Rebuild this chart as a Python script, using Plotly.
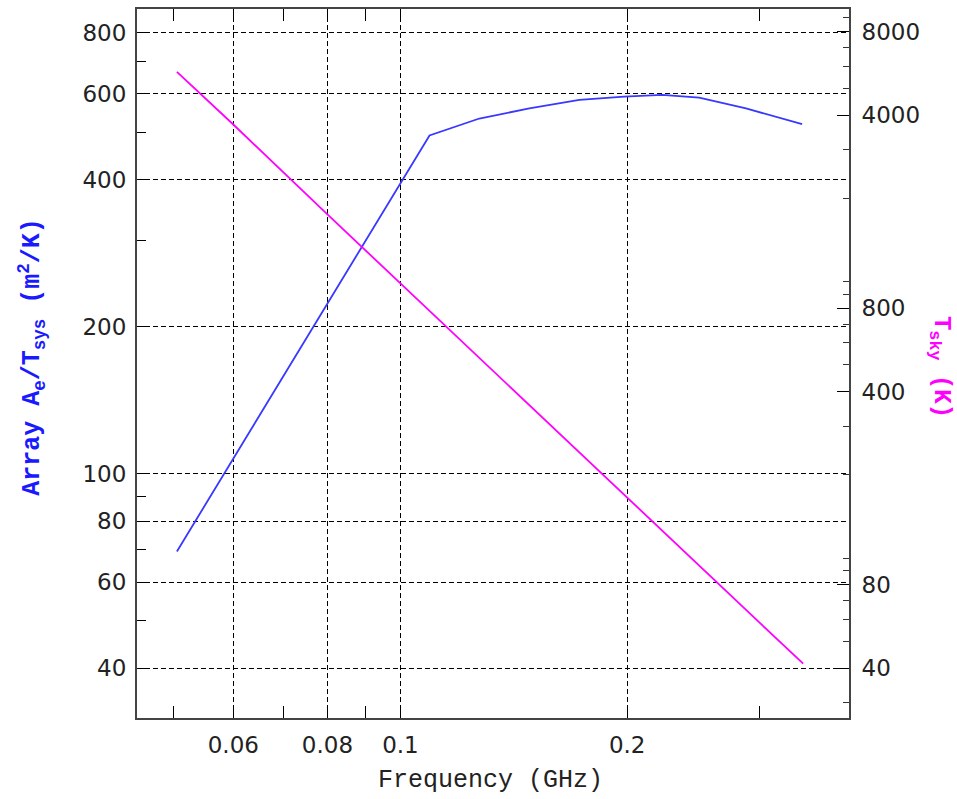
import plotly.graph_objects as go
import numpy as np

# Array Ae/Tsys (left axis)
freq_ae = [0.0505, 0.1093, 0.1273, 0.1483, 0.1728, 0.1982, 0.2226, 0.2492, 0.2876, 0.3414]
ae_tsys = [69.3, 493, 534, 560, 583, 592, 597, 589, 560, 520]

# Sky temperature (right axis)
freq_sky = [0.0505, 0.06, 0.08, 0.1, 0.2, 0.3, 0.3425]
t_sky = [5737, 3700, 1750, 984, 165, 58.3, 41.5]

x_ticks = [0.06, 0.08, 0.1, 0.2]
x_ticktext = ["0.06", "0.08", "0.1", "0.2"]
x_minor = [0.05, 0.07, 0.09, 0.3]
y_ticks = [40, 60, 80, 100, 200, 400, 600, 800]
y_minor = [50, 70, 90, 300, 500, 700]
y2_ticks = [40, 80, 400, 800, 4000, 8000]
y2_minor = [30, 50, 60, 70, 90, 100, 200, 300, 500, 600, 700, 900,
            1000, 2000, 3000, 5000, 6000, 7000, 9000]

BLUE = "#3838ff"
MAG = "#ff00ff"
TICKFONT = dict(family="DejaVu Sans", size=23, color="#222")
TITLEFONT = "Liberation Mono"
GRIDDASH = "5px,3px"

fig = go.Figure()
fig.add_trace(go.Scatter(x=freq_ae, y=ae_tsys, mode="lines",
                         line=dict(color=BLUE, width=1.8),
                         yaxis="y", showlegend=False))
fig.add_trace(go.Scatter(x=freq_sky, y=t_sky, mode="lines",
                         line=dict(color=MAG, width=1.8), yaxis="y2", showlegend=False))

fig.update_layout(
    width=957, height=799,
    margin=dict(l=137, r=108, t=7, b=81),
    paper_bgcolor="white", plot_bgcolor="white",
    xaxis=dict(type="log", range=[np.log10(0.0447), np.log10(0.394)],
               tickvals=x_ticks, ticktext=x_ticktext, tickfont=TICKFONT,
               ticks="inside", ticklen=12, tickcolor="black", tickwidth=1.3,
               showline=True, linecolor="#444", linewidth=2, mirror="allticks",
               showgrid=True, gridcolor="black", gridwidth=1, griddash=GRIDDASH,
               zeroline=False, ticklabelstandoff=5,
               minor=dict(tickvals=x_minor, ticks="inside", ticklen=9,
                          tickcolor="black", tickwidth=1.3, showgrid=False)),
    yaxis=dict(type="log", range=[np.log10(31.6), np.log10(895)],
               tickvals=y_ticks, ticktext=[str(v) for v in y_ticks], tickfont=TICKFONT,
               ticks="inside", ticklen=9, tickcolor="black", tickwidth=1.3,
               showline=True, linecolor="#444", linewidth=2,
               showgrid=True, gridcolor="black", gridwidth=1, griddash=GRIDDASH,
               zeroline=False, ticklabelstandoff=4,
               minor=dict(tickvals=y_minor, ticks="inside", ticklen=9,
                          tickcolor="black", tickwidth=1.3, showgrid=False)),
    yaxis2=dict(type="log", range=[np.log10(26.4), np.log10(9682)],
                overlaying="y", side="right",
                tickvals=y2_ticks, ticktext=[str(v) for v in y2_ticks], tickfont=TICKFONT,
                ticks="inside", ticklen=12, tickcolor="black", tickwidth=1.3,
                showline=True, linecolor="#444", linewidth=2,
                showgrid=False, zeroline=False, ticklabelstandoff=6,
                minor=dict(tickvals=y2_minor, ticks="inside", ticklen=6,
                           tickcolor="#333", tickwidth=1.2, showgrid=False)),
    annotations=[
        dict(text="Frequency (GHz)", xref="paper", yref="paper", x=0.497, y=-0.088,
             xanchor="center", yanchor="middle", showarrow=False,
             font=dict(family=TITLEFONT, size=25, color="#222")),
        dict(text="<b>Array A<sub>e</sub>/T<sub>sys</sub> (m<sup>2</sup>/K)</b>",
             xref="paper", yref="paper", x=-0.147, y=0.51,
             xanchor="center", yanchor="middle", showarrow=False, textangle=-90,
             font=dict(family=TITLEFONT, size=25, color="#1a1aff")),
        dict(text="<b>T<sub>sky</sub> (K)</b>",
             xref="paper", yref="paper", x=1.128, y=0.495,
             xanchor="center", yanchor="middle", showarrow=False, textangle=90,
             font=dict(family=TITLEFONT, size=24, color=MAG)),
    ],
)

fig.write_html("out.html", post_script="document.body.style.margin='0';",
               config={"displayModeBar": False})
